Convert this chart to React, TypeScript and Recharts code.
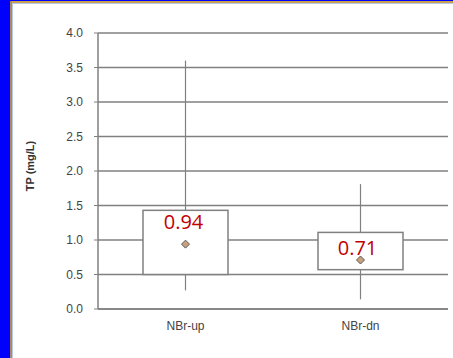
import React from 'react';
import { ComposedChart, Bar, Line, XAxis, YAxis, CartesianGrid, LabelList } from 'recharts';

const categories = ['NBr-up', 'NBr-dn'];
const minVals = [0.27, 0.14];
const q1Vals = [0.5, 0.57];
const q3Vals = [1.43, 1.11];
const maxVals = [3.6, 1.81];
const meanVals = [0.94, 0.71];
const yTicks = [0, 0.5, 1, 1.5, 2, 2.5, 3, 3.5, 4];

const data = categories.map((c, i) => ({
  name: c,
  base: minVals[i],
  lowW: q1Vals[i] - minVals[i],
  box: q3Vals[i] - q1Vals[i],
  upW: maxVals[i] - q3Vals[i],
  mean: meanVals[i],
}));

const GRAY = '#808080';
const TEXT = '#444444';

const Whisker = (props: any) => {
  const { x, y, width, height } = props;
  const cx = x + width / 2;
  return <line x1={cx} x2={cx} y1={y} y2={y + height} stroke={GRAY} strokeWidth={1.2} />;
};

const BoxShape = (props: any) => {
  const { x, y, width, height } = props;
  return <rect x={x} y={y} width={width} height={height} fill="#ffffff" stroke={GRAY} strokeWidth={1.5} />;
};

const Diamond = (props: any) => {
  const { cx, cy, index } = props;
  if (cx == null || cy == null) return null;
  const r = 4;
  return (
    <polygon
      key={'d' + index}
      points={`${cx},${cy - r} ${cx + r},${cy} ${cx},${cy + r} ${cx - r},${cy}`}
      fill="#c9a07c"
      stroke="#5a5a5a"
      strokeWidth={1}
    />
  );
};

const MeanLabel = (props: any) => {
  const { x, y, value, index } = props;
  const dy = index === 0 ? -15 : -5;
  const dx = index === 0 ? -2 : -3;
  return (
    <text
      x={x + dx}
      y={y + dy}
      textAnchor="middle"
      fill="#c00000"
      fontSize={20}
      fontFamily="'Open Sans', sans-serif"
    >
      {Number(value).toFixed(2)}
    </text>
  );
};

const YLabel = (props: any) => {
  const { viewBox } = props;
  const cx = 30;
  const cy = viewBox.y + viewBox.height / 2 - 5;
  return (
    <text
      x={cx}
      y={cy}
      transform={`rotate(-90 ${cx} ${cy})`}
      textAnchor="middle"
      dominantBaseline="central"
      fontSize={11}
      fontWeight="bold"
      fill="#333"
      fontFamily="'Liberation Sans', Arial, sans-serif"
    >
      TP (mg/L)
    </text>
  );
};

export default function App() {
  return (
    <div style={{ position: 'absolute', left: 0, top: 0, width: 453, height: 358, background: '#ffffff', overflow: 'hidden' }}>
      <div style={{ position: 'absolute', left: 0, top: 0, width: 10, height: 358, background: '#0000ff' }} />
      <div style={{ position: 'absolute', left: 0, top: 0, width: 453, height: 1, background: '#0000ff' }} />
      <div style={{ position: 'absolute', left: 10, top: 1, width: 443, height: 2, background: '#c8a050' }} />
      <div style={{ position: 'absolute', left: 10, top: 1, width: 2, height: 357, background: '#b08a5a' }} />
      <div style={{ position: 'absolute', left: 12, top: 3, width: 441, height: 1, background: '#b8c8e8' }} />
      <div style={{ position: 'absolute', left: 12, top: 3, width: 1, height: 355, background: '#b8c8e8' }} />
      <div style={{ position: 'absolute', left: 0, top: 0 }}>
        <ComposedChart
          width={453}
          height={358}
          data={data}
          margin={{ top: 33, right: 5, left: 0, bottom: 19 }}
          barCategoryGap={0}
        >
          <CartesianGrid yAxisId="l" horizontal={true} vertical={false} stroke={GRAY} strokeWidth={1.5} />
          <XAxis
            dataKey="name"
            axisLine={{ stroke: GRAY, strokeWidth: 1.5 }}
            tickLine={false}
            tickSize={0}
            tickMargin={12}
            height={30}
            tick={{ fontSize: 12, fill: TEXT, fontFamily: "'Liberation Sans', Arial, sans-serif" }}
          />
          <YAxis
            yAxisId="l"
            domain={[0, 4]}
            ticks={yTicks}
            width={98}
            interval={0}
            tickFormatter={(v: number) => v.toFixed(1)}
            axisLine={{ stroke: GRAY, strokeWidth: 1.5 }}
            tickLine={{ stroke: GRAY }}
            tickSize={4}
            tickMargin={11}
            tick={{ fontSize: 12, fill: TEXT, fontFamily: "'Liberation Sans', Arial, sans-serif" }}
            label={{ content: YLabel }}
          />
          <YAxis
            yAxisId="r"
            orientation="right"
            domain={[0, 4]}
            width={0}
            tick={false}
            tickLine={false}
            axisLine={{ stroke: GRAY, strokeWidth: 1.5 }}
          />
          <Bar yAxisId="l" dataKey="base" stackId="b" fill="transparent" barSize={85} isAnimationActive={false} />
          <Bar yAxisId="l" dataKey="lowW" stackId="b" barSize={85} shape={Whisker} isAnimationActive={false} />
          <Bar yAxisId="l" dataKey="box" stackId="b" barSize={85} shape={BoxShape} isAnimationActive={false} />
          <Bar yAxisId="l" dataKey="upW" stackId="b" barSize={85} shape={Whisker} isAnimationActive={false} />
          <Line
            yAxisId="l"
            dataKey="mean"
            stroke="none"
            dot={Diamond}
            activeDot={false}
            isAnimationActive={false}
          >
            <LabelList dataKey="mean" content={MeanLabel} />
          </Line>
        </ComposedChart>
      </div>
    </div>
  );
}
